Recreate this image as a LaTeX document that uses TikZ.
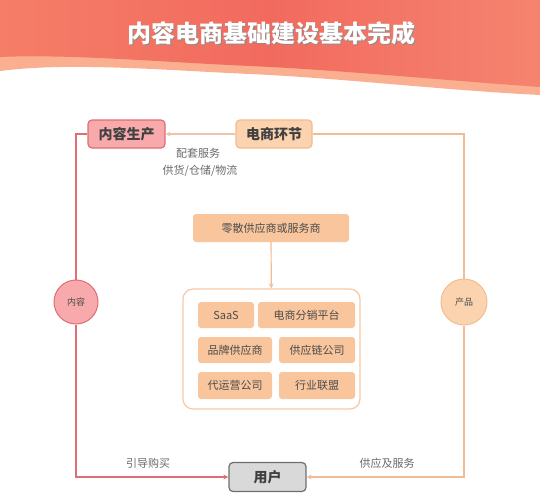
\documentclass[tikz,border=0pt]{standalone}
\usepackage{fontspec}
\newfontfamily\cjk{Noto Sans CJK SC}
\usetikzlibrary{shapes,arrows,calc}
\definecolor{bannerred}{HTML}{F26A5E}
\definecolor{bannerleft}{HTML}{F57E68}
\definecolor{bannerright}{HTML}{F5846F}
\definecolor{bannerlight}{HTML}{FAB090}
\definecolor{pinkfill}{HTML}{F7A9AB}
\definecolor{pinkline}{HTML}{DC6E74}
\definecolor{orangefill}{HTML}{FBD3AF}
\definecolor{orangeline}{HTML}{F1BC92}
\definecolor{boxfill}{HTML}{F8C59C}
\definecolor{greyfill}{HTML}{D9D9D9}
\definecolor{greyline}{HTML}{6E6E6E}
\definecolor{labelgrey}{HTML}{6A6A6A}
\definecolor{toplink}{HTML}{EFC2AC}

\begin{document}
\begin{tikzpicture}[x=1pt,y=-1pt,
  title/.style={rounded corners=4pt,line width=1.2pt,minimum height=28pt,
    font=\cjk\fontsize{14}{16}\selectfont\bfseries,text=black!75},
  item/.style={fill=boxfill,rounded corners=3pt,minimum height=26pt,
    font=\cjk\fontsize{11}{13}\selectfont,text=black!70},
  ring/.style={circle,line width=1pt,font=\cjk\fontsize{9}{11}\selectfont,text=black!70},
  note/.style={font=\cjk\fontsize{11}{13}\selectfont,text=labelgrey},
  >=stealth]
\useasboundingbox (0,0) rectangle (540,498);
% banner
\fill[bannerlight] (0,0) -- (540,0) -- (540,95)
  .. controls (440,90) and (340,78) .. (250,74)
  .. controls (160,70) and (70,62) .. (0,71) -- cycle;
\shade[left color=bannerleft,right color=bannerright,middle color=bannerred]
  (0,0) -- (540,0) -- (540,87)
  .. controls (440,80) and (340,70) .. (250,66)
  .. controls (160,62) and (70,54) .. (0,57) -- cycle;
\node[font=\cjk\fontsize{24}{28}\selectfont\bfseries,text=black!45] (titleshadow) at (272.5,34.5) {内容电商基础建设基本完成};
\node[font=\cjk\fontsize{24}{28}\selectfont\bfseries,text=white] (banner) at (271,33) {内容电商基础建设基本完成};
% main nodes
\node[title,draw=pinkline,fill=pinkfill,minimum width=77pt] (content) at (126.5,134) {内容生产};
\node[title,draw=orangeline,fill=orangefill,minimum width=76pt] (ecom) at (274,134) {电商环节};
\node[title,draw=greyline,fill=greyfill,minimum width=77pt,minimum height=29pt] (user) at (267.5,477) {用户};
\node[ring,draw=pinkline,fill=pinkfill,minimum size=44pt] (neirong) at (76,302) {内容};
\node[ring,draw=orangeline,fill=orangefill,minimum size=46pt] (chanpin) at (464,302) {产品};
% suppliers
\node[item,minimum width=156pt,minimum height=28pt] (supplier) at (271,228) {零散供应商或服务商};
\node[draw=orangeline!80,line width=1.2pt,rounded corners=10pt,minimum width=177pt,minimum height=120pt] (group) at (271.5,349) {};
\node[item,minimum width=56pt] (saas) at (226,315) {SaaS};
\node[item,minimum width=97pt] (fenxiao) at (306.5,315) {电商分销平台};
\node[item,minimum width=74pt] (pinpai) at (235,350) {品牌供应商};
\node[item,minimum width=76pt] (gongying) at (317,350) {供应链公司};
\node[item,minimum width=74pt,minimum height=27pt] (daiyunying) at (235,385.5) {代运营公司};
\node[item,minimum width=76pt,minimum height=27pt] (lianmeng) at (317,385.5) {行业联盟};
% labels
\node[note] (peitao) at (198,153) {配套服务};
\node[note] (wuliu) at (200,171) {供货/仓储/物流};
\node[note] (yindao) at (148,463) {引导购买};
\node[note] (fuwu) at (387,463) {供应及服务};
% links
\draw[->,toplink,line width=1.2pt] (ecom) -- (content);
\draw[pinkline,line width=1.2pt] (content.west) -| (neirong.north);
\draw[->,pinkline,line width=1.2pt] (neirong.south) |- (user.west);
\draw[orangeline,line width=1.2pt] (ecom.east) -| (chanpin.north);
\draw[->,orangeline,line width=1.2pt] (chanpin.south) |- (user.east);
\draw[->,orangeline,line width=1.2pt] (supplier) -- (group);
\end{tikzpicture}
\end{document}
